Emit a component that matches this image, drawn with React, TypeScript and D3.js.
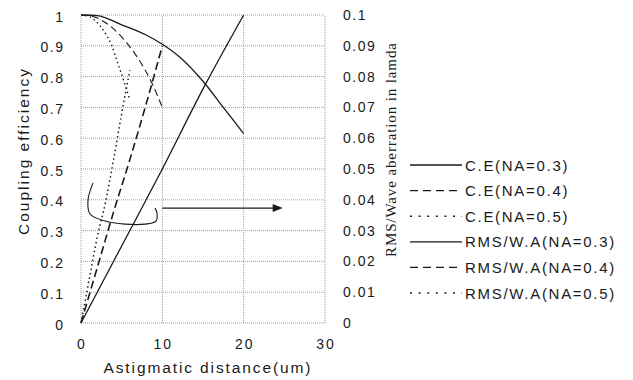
import * as d3 from "d3";

// astigmatic distance (um) and readings for each curve
const ce03X = [0, 2, 5, 8, 10, 12.5, 15, 17.5, 20];
const ce03Y = [1, 0.998, 0.968, 0.935, 0.905, 0.855, 0.785, 0.7, 0.615];
const ce04X = [0, 1, 2, 4, 5.6, 7, 8.7, 10];
const ce04Y = [1, 0.998, 0.99, 0.955, 0.91, 0.86, 0.78, 0.7];
const ce05X = [0, 1, 2, 3, 3.8, 4.5, 5.4, 6];
const ce05Y = [1, 0.995, 0.975, 0.94, 0.9, 0.845, 0.775, 0.725];

const rms03X = [0, 5, 10, 15, 20];
const rms03Y = [0, 0.025, 0.05, 0.076, 0.1];
const rms04X = [0, 2, 4, 6, 8, 10];
const rms04Y = [0, 0.018, 0.036, 0.053, 0.071, 0.09];
const rms05X = [0, 1, 2, 3, 4, 5, 6];
const rms05Y = [0, 0.014, 0.028, 0.039, 0.053, 0.068, 0.082];

const leftTicks = [0, 0.1, 0.2, 0.3, 0.4, 0.5, 0.6, 0.7, 0.8, 0.9, 1];
const rightTicks = [0, 0.01, 0.02, 0.03, 0.04, 0.05, 0.06, 0.07, 0.08, 0.09, 0.1];
const xTicks = [0, 10, 20, 30];

const legendLabels = [
  "C.E(NA=0.3)",
  "C.E(NA=0.4)",
  "C.E(NA=0.5)",
  "RMS/W.A(NA=0.3)",
  "RMS/W.A(NA=0.4)",
  "RMS/W.A(NA=0.5)",
];

// hand drawn bracket + arrow pointing to the right axis (data units)
const loopX = [1.48, 0.86, 1.11, 2.95, 5.41, 7.87, 9.22, 9.34, 9.1];
const loopY = [0.455, 0.399, 0.354, 0.331, 0.321, 0.321, 0.331, 0.357, 0.373];
const arrowX = [10, 24.8];
const arrowY = 0.373;

const W = 633;
const H = 380;
const SANS = "'Liberation Sans', Arial, sans-serif";
const SERIF = "'Liberation Serif', 'Times New Roman', serif";
const INK = "#1a1a1a";

export default function App() {
  const x = d3.scaleLinear().domain([0, 30]).range([81, 325]);
  const yL = d3.scaleLinear().domain([0, 1]).range([323, 15]);
  const yR = d3.scaleLinear().domain([0, 0.1]).range([323, 15]);

  const lineL = (xs: number[], ys: number[]) =>
    d3
      .line<number>()
      .x((_, i) => x(xs[i]))
      .y((d) => yL(d))
      .curve(d3.curveMonotoneX)(ys) || "";
  const lineR = (xs: number[], ys: number[]) =>
    d3
      .line<number>()
      .x((_, i) => x(xs[i]))
      .y((d) => yR(d))
      .curve(d3.curveMonotoneX)(ys) || "";

  const loopPath =
    d3
      .line<number>()
      .x((_, i) => x(loopX[i]))
      .y((d) => yL(d))
      .curve(d3.curveCatmullRom)(loopY) || "";

  const styles = [
    { dash: "none", width: 1.3 },
    { dash: "7,4", width: 1.1 },
    { dash: "1.5,3", width: 1.4 },
    { dash: "none", width: 1.3 },
    { dash: "8,4", width: 1.6 },
    { dash: "1.5,3", width: 1.5 },
  ];
  const legendDash = ["none", "8,5", "2,6.6", "none", "8,5", "2,6.6"];

  const paths = [
    lineL(ce03X, ce03Y),
    lineL(ce04X, ce04Y),
    lineL(ce05X, ce05Y),
    lineR(rms03X, rms03Y),
    lineR(rms04X, rms04Y),
    lineR(rms05X, rms05Y),
  ];

  const ax1 = x(arrowX[0]);
  const ax2 = x(arrowX[1]);
  const ay = yL(arrowY);

  return (
    <svg
      width={W}
      height={H}
      style={{ position: "absolute", left: 0, top: 0, background: "#fff" }}
    >
      {/* grid */}
      <g stroke="#a0a0a0" strokeWidth={1} strokeDasharray="1,1" fill="none">
        {leftTicks.map((t) => (
          <line key={"h" + t} x1={x(0)} x2={x(30)} y1={yL(t)} y2={yL(t)} />
        ))}
        {xTicks.map((t) => (
          <line key={"v" + t} x1={x(t)} x2={x(t)} y1={yL(0)} y2={yL(1)} />
        ))}
      </g>

      {/* curves */}
      <g fill="none" stroke={INK}>
        {paths.map((d, i) => (
          <path
            key={i}
            d={d}
            strokeWidth={styles[i].width}
            strokeDasharray={styles[i].dash}
          />
        ))}
      </g>

      {/* annotation */}
      <path d={loopPath} fill="none" stroke={INK} strokeWidth={1.1} />
      <line x1={ax1} x2={ax2 - 8} y1={ay} y2={ay} stroke={INK} strokeWidth={1.2} />
      <path
        d={`M${ax2},${ay} L${ax2 - 10},${ay - 4} L${ax2 - 10},${ay + 4} Z`}
        fill={INK}
      />

      {/* tick labels */}
      <g fontFamily={SANS} fontSize={14} fill={INK} letterSpacing={1.5}>
        {leftTicks.map((t) => (
          <text key={t} x={64.5} y={yL(t) + 6.5} textAnchor="end">
            {d3.format("~g")(t)}
          </text>
        ))}
        {rightTicks.map((t) => (
          <text key={t} x={343} y={yR(t) + 5} textAnchor="start">
            {d3.format("~g")(t)}
          </text>
        ))}
        {xTicks.map((t) => (
          <text key={t} x={x(t) + 1} y={349} textAnchor="middle" letterSpacing={2}>
            {t}
          </text>
        ))}
      </g>

      {/* axis titles */}
      <text
        transform="translate(29,152) rotate(-90)"
        textAnchor="middle"
        fontFamily={SANS}
        fontSize={15.5}
        fill={INK}
        textLength={166}
        lengthAdjust="spacing"
      >
        Coupling efficiency
      </text>
      <text
        x={207}
        y={373}
        textAnchor="middle"
        fontFamily={SANS}
        fontSize={15.5}
        fill={INK}
        textLength={207}
        lengthAdjust="spacing"
      >
        Astigmatic distance(um)
      </text>
      <text
        transform="translate(396,150) rotate(-90)"
        textAnchor="middle"
        fontFamily={SERIF}
        fontSize={15}
        fill={INK}
        textLength={214}
        lengthAdjust="spacing"
      >
        RMS/Wave aberration in lamda
      </text>

      {/* legend */}
      <g fontFamily={SANS} fontSize={15} fill={INK} letterSpacing={1.7}>
        {legendLabels.map((lab, i) => {
          const ly = 165 + i * 25.6;
          return (
            <g key={lab}>
              <line
                x1={410}
                x2={462}
                y1={ly}
                y2={ly}
                stroke={INK}
                strokeWidth={i === 2 || i === 5 ? 1.4 : 1.3}
                strokeDasharray={legendDash[i]}
              />
              <text x={465} y={ly + 5.5}>
                {lab}
              </text>
            </g>
          );
        })}
      </g>
    </svg>
  );
}
